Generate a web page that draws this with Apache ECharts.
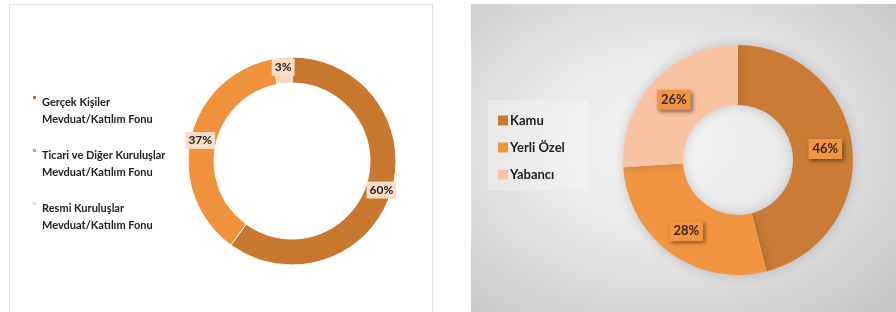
<!DOCTYPE html>
<html>
<head>
    <meta charset="utf-8" />
    <title>Mevduat / Katılım Fonu dağılımı</title>
    <script type="text/javascript" src="https://cdn.jsdelivr.net/npm/echarts@6/dist/echarts.min.js"></script>
    <style>
        body { margin: 0; background: #fff; }
        #left {
            position: absolute; left: 9px; top: 4px; width: 424px; height: 310px;
            background: #fff; border: 1px solid #e2e2e2; box-sizing: border-box;
        }
        #right {
            position: absolute; left: 471px; top: 4px; width: 425px; height: 308px;
            background: radial-gradient(ellipse at 45% 45%, #f6f6f6 0%, #e8e8e8 40%, #c4c4c4 100%);
        }
    </style>
</head>
<body>
<div id="left"></div>
<div id="right"></div>
<script type="text/javascript">
    // sol grafik: fon sahipleri
    var leftNames = ['Gerçek Kişiler\nMevduat/Katılım Fonu', 'Ticari ve Diğer Kuruluşlar\nMevduat/Katılım Fonu', 'Resmi Kuruluşlar\nMevduat/Katılım Fonu'];
    var leftValues = [60, 37, 3];
    var leftColors = ['#c8772f', '#f0913b', '#fbd6b8'];

    // sağ grafik: sahiplik
    var rightNames = ['Kamu', 'Yerli Özel', 'Yabancı'];
    var rightValues = [46, 28, 26];
    var rightColors = ['#ca7b36', '#f29543', '#f9c3a3'];

    var font = 'Lato';

    function pieData(names, values, colors) {
        var arr = [];
        for (var i = 0; i < names.length; i++) {
            arr.push({ name: names[i], value: values[i], itemStyle: { color: colors[i] } });
        }
        return arr;
    }

    var leftChart = echarts.init(document.getElementById('left'));
    leftChart.setOption({
        animation: false,
        legend: {
            orient: 'vertical',
            left: 16,
            top: 84,
            itemWidth: 5,
            itemHeight: 32,
            itemGap: 19,
            icon: 'path://M0 0H5V5H0Z M0 31V32',
            textStyle: { fontFamily: font, fontSize: 11, fontWeight: 'bold', color: '#222', lineHeight: 17 },
            data: leftNames
        },
        series: [{
            type: 'pie',
            center: [282, 156],
            radius: [78, 104],
            startAngle: 90,
            clockwise: true,
            itemStyle: { borderWidth: 1, borderColor: '#fff' },
            label: {
                position: 'inside',
                formatter: '{c}%',
                fontFamily: font,
                fontSize: 12,
                fontWeight: 'bold',
                color: '#222',
                backgroundColor: '#fbdcc4',
                padding: [3, 3, 2, 3]
            },
            labelLine: { show: false },
            emphasis: { disabled: true },
            data: pieData(leftNames, leftValues, leftColors)
        }]
    });

    var rightChart = echarts.init(document.getElementById('right'));
    rightChart.setOption({
        animation: false,
        legend: {
            orient: 'vertical',
            left: 17,
            top: 96,
            padding: [14, 24, 10, 10],
            backgroundColor: 'rgba(255,255,255,0.25)',
            itemWidth: 10,
            itemHeight: 10,
            itemGap: 14,
            icon: 'rect',
            textStyle: { fontFamily: font, fontSize: 13, fontWeight: 'bold', color: '#1e1e1e', padding: [0, 0, 0, -3] },
            data: rightNames
        },
        series: [{
            type: 'pie',
            center: [267, 156],
            radius: [55, 115],
            startAngle: 90,
            clockwise: true,
            itemStyle: { shadowBlur: 12, shadowColor: 'rgba(0,0,0,0.18)' },
            label: {
                position: 'inside',
                formatter: '{c}%',
                fontFamily: font,
                fontSize: 13,
                fontWeight: 'bold',
                color: '#3b2616',
                backgroundColor: '#f29543',
                padding: [4, 4, 3, 4],
                shadowBlur: 4,
                shadowOffsetX: 2,
                shadowOffsetY: 2,
                shadowColor: 'rgba(0,0,0,0.45)'
            },
            labelLine: { show: false },
            emphasis: { disabled: true },
            data: pieData(rightNames, rightValues, rightColors)
        }]
    });
</script>
</body>
</html>
